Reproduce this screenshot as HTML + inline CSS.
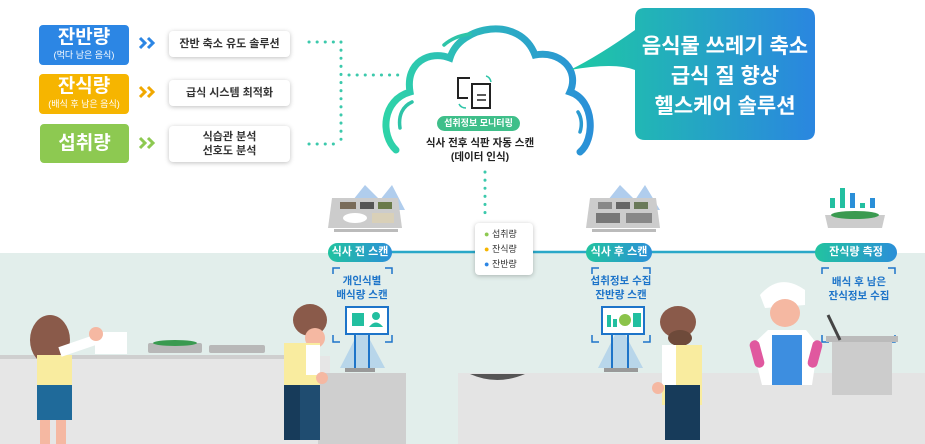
<!DOCTYPE html>
<html><head><meta charset="utf-8"><style>
*{margin:0;padding:0;box-sizing:border-box}
body{width:925px;height:444px;overflow:hidden;background:#fff;position:relative;font-family:"Liberation Sans","Noto Sans CJK KR",sans-serif}
.a{position:absolute}
.lb{color:#fff;text-align:center;border-radius:4px;font-weight:bold}
.wb{background:#fff;border-radius:4px;box-shadow:0 1px 5px rgba(0,0,0,.25);font-size:11px;color:#333;text-align:center;display:flex;align-items:center;justify-content:center;line-height:14px;font-weight:bold}
.pill{background:linear-gradient(90deg,#22c3a0,#2a8fd8);color:#fff;font-size:11px;border-radius:10px;text-align:center;line-height:19px;font-weight:bold}
.bl{color:#1d74c9;font-size:10.5px;font-weight:bold;text-align:center;line-height:14px}
</style></head><body>
<svg class="a" style="left:0;top:0" width="925" height="444">
<defs>
<linearGradient id="cg" x1="0" y1="0" x2="1" y2="0"><stop offset="0" stop-color="#2ed3a8"/><stop offset="1" stop-color="#2a90d8"/></linearGradient>
<linearGradient id="bg" x1="0" y1="0" x2="1" y2="0"><stop offset="0" stop-color="#1ec9a4"/><stop offset="1" stop-color="#2a86e0"/></linearGradient>
</defs>
<rect x="0" y="253" width="925" height="191" fill="#e2eeeb"/>
<rect x="0" y="356" width="330" height="88" fill="#e6e6e6"/>
<rect x="0" y="355" width="320" height="4" fill="#cfcfcf"/>
<rect x="318" y="373" width="88" height="71" fill="#cfcfcf"/>
<rect x="458" y="373" width="467" height="71" fill="#e4e4e4"/>
<path d="M470 374 Q497 386 525 374Z" fill="#555"/>
<!-- chevrons -->
<g fill="none" stroke-width="3" stroke-linejoin="miter">
<path d="M140 38 L145 43 L140 48 M148 38 L153 43 L148 48" stroke="#2c86e4"/>
<path d="M140 87 L145 92 L140 97 M148 87 L153 92 L148 97" stroke="#f0a800"/>
<path d="M140 138 L145 143 L140 148 M148 138 L153 143 L148 148" stroke="#8dc951"/>
</g>
<!-- dotted lines -->
<g stroke="#3cc9ac" stroke-width="3" stroke-dasharray="0.1 8" stroke-linecap="round" fill="none">
<line x1="309" y1="42" x2="341" y2="42"/>
<line x1="309" y1="144" x2="341" y2="144"/>
<line x1="341" y1="42" x2="341" y2="144"/>
<line x1="349" y1="75" x2="398" y2="75"/>
<line x1="485" y1="172" x2="485" y2="218"/>
</g>
<!-- cloud -->
<path d="M396 150 C380 135 382 100 410 92 C405 62 430 50 450 58 C460 25 520 15 535 55 C560 50 580 70 570 92 C595 100 595 140 580 152 Z" fill="#fff"/>
<path d="M396 150 C380 135 382 100 410 92 C405 62 430 50 450 58 C460 25 520 15 535 55 C560 50 580 70 570 92 C595 100 595 140 580 152" fill="none" stroke="url(#cg)" stroke-width="7" stroke-linecap="round"/>
<path d="M400 128 C398 115 403 106 412 102" fill="none" stroke="#2ec4a8" stroke-width="3.5" stroke-linecap="round"/>
<path d="M444 45 C452 38 462 35 470 34" fill="none" stroke="#2ec4a8" stroke-width="3.5" stroke-linecap="round"/>
<path d="M578 112 C582 118 582 126 580 132" fill="none" stroke="#2a9ad0" stroke-width="3.5" stroke-linecap="round"/>
<!-- speech bubble -->
<path d="M645 8 H805 Q815 8 815 18 V130 Q815 140 805 140 H645 Q635 140 635 130 V70 Q615 62 570 70 Q600 55 635 30 V18 Q635 8 645 8Z" fill="url(#bg)"/>
<!-- doc icons -->
<path d="M470 78 H458 V98 H468" fill="none" stroke="#222" stroke-width="2"/>
<rect x="472" y="84" width="18" height="24" fill="#fff" stroke="#222" stroke-width="2"/>
<line x1="477" y1="95" x2="486" y2="95" stroke="#222" stroke-width="1.5"/><line x1="477" y1="100" x2="486" y2="100" stroke="#222" stroke-width="1.5"/>
<path d="M486 76 Q490 77 491 82" fill="none" stroke="#2ec4a8" stroke-width="1.5"/>
<path d="M459 104 Q461 108 466 108" fill="none" stroke="#2ec4a8" stroke-width="1.5"/>
<!-- timeline -->
<line x1="340" y1="252" x2="890" y2="252" stroke="#2aa8c8" stroke-width="2.5"/>
<!-- trays -->
<g>
<polygon points="345,210 365,185 380,200 392,185 405,210" fill="#8fb8e6" opacity=".7"/>
<path d="M332 198 H398 L402 228 H328Z" fill="#ccc"/>
<rect x="340" y="202" width="16" height="7" fill="#7a6c5a"/><rect x="360" y="202" width="14" height="7" fill="#555"/><rect x="378" y="202" width="14" height="7" fill="#6a7a4a"/>
<ellipse cx="355" cy="218" rx="12" ry="5" fill="#fff"/><rect x="372" y="213" width="22" height="10" fill="#d9d0b8"/>
<rect x="334" y="229" width="64" height="3" fill="#bbb"/>
<polygon points="600,210 620,185 635,200 645,185 660,210" fill="#8fb8e6" opacity=".7"/>
<path d="M590 198 H656 L660 228 H586Z" fill="#ccc"/>
<rect x="598" y="202" width="14" height="7" fill="#888"/><rect x="616" y="202" width="14" height="7" fill="#666"/><rect x="634" y="202" width="14" height="7" fill="#6a7a5a"/>
<rect x="596" y="213" width="24" height="10" fill="#777"/><rect x="626" y="213" width="26" height="10" fill="#888"/>
<rect x="592" y="229" width="64" height="3" fill="#bbb"/>
<rect x="830" y="198" width="5" height="10" fill="#22bfa0"/><rect x="840" y="188" width="5" height="20" fill="#22bfa0"/><rect x="850" y="193" width="5" height="15" fill="#2a8fd8"/><rect x="860" y="203" width="5" height="5" fill="#22bfa0"/><rect x="870" y="198" width="5" height="10" fill="#2a8fd8"/>
<path d="M825 215 H885 L882 228 H828Z" fill="#ccc"/><ellipse cx="855" cy="215" rx="24" ry="4" fill="#3a9a50"/>
</g>
<!-- scan frames -->
<g fill="none" stroke="#1d74c9" stroke-width="1.5">
<path d="M333 274 V268 H340 M385 268 H392 V274 M333 335 V342 H340 M385 342 H392 V335"/>
<path d="M592 274 V268 H599 M643 268 H650 V274 M592 335 V342 H599 M643 342 H650 V335"/>
<path d="M822 274 V268 H829 M888 268 H895 V274 M822 335 V342 H829 M888 342 H895 V335"/>
</g>
<!-- monitors -->
<polygon points="362,325 340,368 385,368" fill="#9cc7ea" opacity=".6"/>
<rect x="346" y="307" width="42" height="27" fill="#fff" stroke="#1d74c9" stroke-width="2"/>
<rect x="352" y="313" width="12" height="13" fill="#22bfa0"/><circle cx="376" cy="316" r="4" fill="#22bfa0"/><path d="M369 327 Q376 318 383 327Z" fill="#22bfa0"/>
<line x1="355" y1="334" x2="355" y2="368" stroke="#1d74c9" stroke-width="2"/><line x1="369" y1="334" x2="369" y2="368" stroke="#1d74c9" stroke-width="2"/>
<rect x="345" y="368" width="30" height="4" fill="#999"/>
<polygon points="620,325 598,368 643,368" fill="#9cc7ea" opacity=".6"/>
<rect x="602" y="307" width="42" height="27" fill="#fff" stroke="#1d74c9" stroke-width="2"/>
<rect x="607" y="315" width="4" height="12" fill="#22bfa0"/><rect x="613" y="319" width="4" height="8" fill="#22bfa0"/><circle cx="625" cy="320" r="6" fill="#8bc34a"/><rect x="633" y="313" width="8" height="14" fill="#22bfa0"/>
<line x1="612" y1="334" x2="612" y2="368" stroke="#1d74c9" stroke-width="2"/><line x1="628" y1="334" x2="628" y2="368" stroke="#1d74c9" stroke-width="2"/>
<rect x="604" y="368" width="34" height="4" fill="#999"/>
<!-- trays on shelf -->
<rect x="148" y="343" width="54" height="10" rx="2" fill="#b8b8b8"/><ellipse cx="175" cy="343" rx="22" ry="3" fill="#3a9a50"/>
<rect x="209" y="345" width="56" height="8" rx="2" fill="#b8b8b8"/>
<rect x="95" y="332" width="32" height="22" fill="#fff"/>
<!-- pot -->
<rect x="832" y="340" width="60" height="55" fill="#ccc"/><rect x="826" y="336" width="72" height="6" fill="#bbb"/>
<line x1="828" y1="315" x2="840" y2="340" stroke="#444" stroke-width="3"/>
<!-- girl left -->
<ellipse cx="50" cy="340" rx="20" ry="25" fill="#8a5a4a"/>
<rect x="37" y="355" width="35" height="35" fill="#f9ec9f"/>
<rect x="37" y="385" width="35" height="35" fill="#1f6a9a"/>
<rect x="40" y="420" width="10" height="24" fill="#f5b8a2"/><rect x="56" y="420" width="10" height="24" fill="#f5b8a2"/>
<path d="M60 352 L95 340" stroke="#fff" stroke-width="10"/><circle cx="96" cy="334" r="7" fill="#f5b8a2"/>
<!-- boy 1 -->
<ellipse cx="310" cy="320" rx="17" ry="16" fill="#8a5a4a"/><ellipse cx="315" cy="338" rx="10" ry="10" fill="#f5b8a2"/>
<rect x="284" y="343" width="36" height="42" fill="#f9ec9f"/><rect x="306" y="345" width="14" height="30" fill="#fff"/>
<circle cx="322" cy="378" r="6" fill="#f5b8a2"/>
<rect x="284" y="385" width="36" height="55" fill="#1f4c70"/><rect x="284" y="385" width="16" height="55" fill="#173b5a"/>
<!-- boy 2 -->
<ellipse cx="678" cy="322" rx="18" ry="16" fill="#8a5a4a"/><ellipse cx="680" cy="338" rx="12" ry="8" fill="#6e4a3a"/>
<rect x="662" y="345" width="40" height="60" fill="#f9ec9f"/><rect x="662" y="345" width="14" height="40" fill="#fff"/>
<circle cx="658" cy="388" r="6" fill="#f5b8a2"/>
<rect x="665" y="385" width="35" height="55" fill="#173b5a"/>
<!-- cook -->
<path d="M760 295 Q780 272 805 290 L805 305 L765 308Z" fill="#fff"/>
<ellipse cx="785" cy="313" rx="15" ry="14" fill="#f5b8a2"/>
<path d="M768 330 H806 L818 345 L812 385 H762 L752 345Z" fill="#fff"/>
<rect x="772" y="335" width="30" height="50" fill="#3d8ee0"/>
<rect x="752" y="340" width="10" height="28" rx="5" fill="#e0589f" transform="rotate(-15 757 354)"/>
<rect x="810" y="340" width="10" height="28" rx="5" fill="#e0589f" transform="rotate(15 815 354)"/>
</svg>

<div class="a lb" style="left:39px;top:25px;width:90px;height:40px;background:#2c86e4;font-size:19px;line-height:22px;padding-top:2px">잔반량<div style="font-size:9px;line-height:12px;font-weight:normal">(먹다 남은 음식)</div></div>
<div class="a lb" style="left:39px;top:74px;width:90px;height:40px;background:#f6b500;font-size:19px;line-height:22px;padding-top:2px">잔식량<div style="font-size:9px;line-height:12px;font-weight:normal">(배식 후 남은 음식)</div></div>
<div class="a lb" style="left:40px;top:124px;width:89px;height:39px;background:#8dc951;font-size:19px;line-height:39px">섭취량</div>
<div class="a wb" style="left:169px;top:31px;width:121px;height:26px">잔반 축소 유도 솔루션</div>
<div class="a wb" style="left:169px;top:80px;width:121px;height:26px">급식 시스템 최적화</div>
<div class="a wb" style="left:169px;top:126px;width:121px;height:36px">식습관 분석<br>선호도 분석</div>

<div class="a" style="left:437px;top:116px;width:83px;height:15px;background:#3fbf8a;border-radius:8px;color:#fff;font-size:9px;line-height:15px;text-align:center;font-weight:bold">섭취정보 모니터링</div>
<div class="a" style="left:410px;top:136px;width:140px;text-align:center;font-size:10.5px;line-height:14px;color:#222;font-weight:bold">식사 전후 식판 자동 스캔<br>(데이터 인식)</div>

<div class="a" style="left:635px;top:32px;width:180px;text-align:center;color:#fff;font-size:21px;line-height:30px;font-weight:bold">음식물 쓰레기 축소<br>급식 질 향상<br>헬스케어 솔루션</div>

<div class="a" style="left:475px;top:223px;width:58px;height:52px;background:#fff;border-radius:4px;box-shadow:0 1px 5px rgba(0,0,0,.25);font-size:9px;line-height:15px;padding:4px 0 0 9px;color:#333">
<div><span style="color:#8dc951">●</span> 섭취량</div><div><span style="color:#f6b500">●</span> 잔식량</div><div><span style="color:#2c86e4">●</span> 잔반량</div></div>

<div class="a pill" style="left:328px;top:243px;width:64px">식사 전 스캔</div>
<div class="a pill" style="left:586px;top:243px;width:66px">식사 후 스캔</div>
<div class="a pill" style="left:815px;top:243px;width:82px">잔식량 측정</div>

<div class="a bl" style="left:322px;top:274px;width:80px">개인식별<br>배식량 스캔</div>
<div class="a bl" style="left:581px;top:274px;width:80px">섭취정보 수집<br>잔반량 스캔</div>
<div class="a bl" style="left:815px;top:275px;width:88px">배식 후 남은<br>잔식정보 수집</div>
</body></html>
